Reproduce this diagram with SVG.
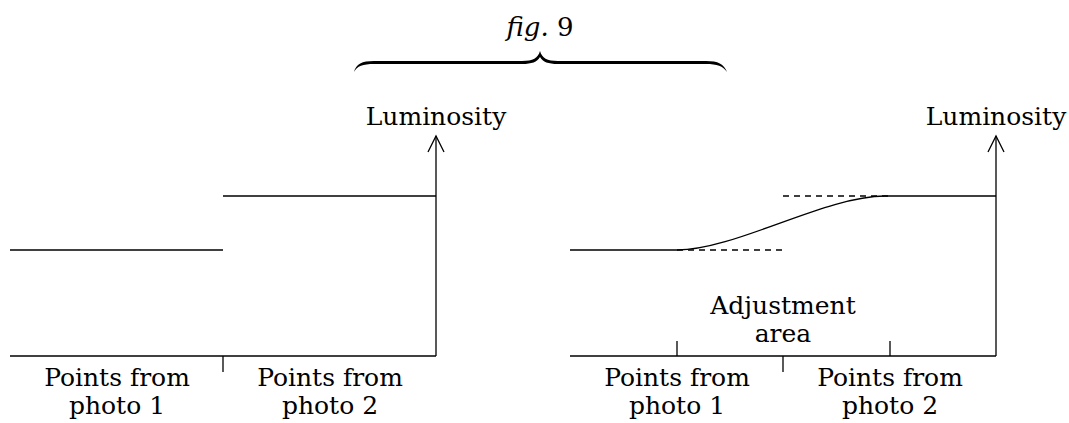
<svg xmlns="http://www.w3.org/2000/svg" width="1069" height="423" viewBox="0 0 1069 423">
<style>
.ln{stroke:#000;stroke-width:1.3;fill:none}
.ds{stroke:#000;stroke-width:1.3;fill:none;stroke-dasharray:6 5}
text{font-family:'DejaVu Serif','Liberation Serif','Noto Serif',serif;font-size:25px;fill:#000;text-anchor:middle}
</style>
<defs>
<marker id="ar" markerWidth="20" markerHeight="20" refX="18" refY="10" orient="auto" markerUnits="userSpaceOnUse" viewBox="0 0 20 20">
<path d="M2,2 L18,10 L2,18" stroke="#000" stroke-width="1.3" fill="none"/>
</marker>
</defs>
<rect width="1069" height="423" fill="#fff"/>
<g id="title">
<text x="540" y="36" style="font-size:26px"><tspan font-style="italic">fig.</tspan> 9</text>
<path d="M354,72 C356,64 362,61 374,61 L522,61 C533,61 538,58 540,51 C542,58 547,61 558,61 L706,61 C718,61 724,64 727,72 C723,66 717,64 706,64 L558,64 C548,64 543,62 540,57 C537,62 532,64 522,64 L374,64 C363,64 357,66 354,72 Z" fill="#000"/>
</g>
<g id="connectors">
<line class="ln" x1="10" y1="356" x2="436" y2="356"/>
<line class="ln" x1="436" y1="356" x2="436" y2="136" marker-end="url(#ar)"/>
<line class="ln" x1="223" y1="356" x2="223" y2="372"/>
<line class="ln" x1="10" y1="250" x2="223" y2="250"/>
<line class="ln" x1="223" y1="196" x2="436" y2="196"/>
<line class="ln" x1="570" y1="356" x2="996" y2="356"/>
<line class="ln" x1="996" y1="356" x2="996" y2="136" marker-end="url(#ar)"/>
<line class="ln" x1="677" y1="356" x2="677" y2="341"/>
<line class="ln" x1="890" y1="356" x2="890" y2="341"/>
<line class="ln" x1="783" y1="356" x2="783" y2="372"/>
<path class="ln" d="M570,250 L677,250 C735,250 825,196 885,196 L996,196"/>
<line class="ds" x1="677" y1="250" x2="785" y2="250"/>
<line class="ds" x1="783" y1="196" x2="888" y2="196"/>
</g>
<g id="left-labels">
<text x="436" y="125">Luminosity</text>
<text x="117" y="386">Points from</text>
<text x="117" y="414">photo 1</text>
<text x="330" y="386">Points from</text>
<text x="330" y="414">photo 2</text>
</g>
<g id="right-labels">
<text x="996" y="125">Luminosity</text>
<text x="783" y="314">Adjustment</text>
<text x="783" y="342">area</text>
<text x="677" y="386">Points from</text>
<text x="677" y="414">photo 1</text>
<text x="890" y="386">Points from</text>
<text x="890" y="414">photo 2</text>
</g>
</svg>
